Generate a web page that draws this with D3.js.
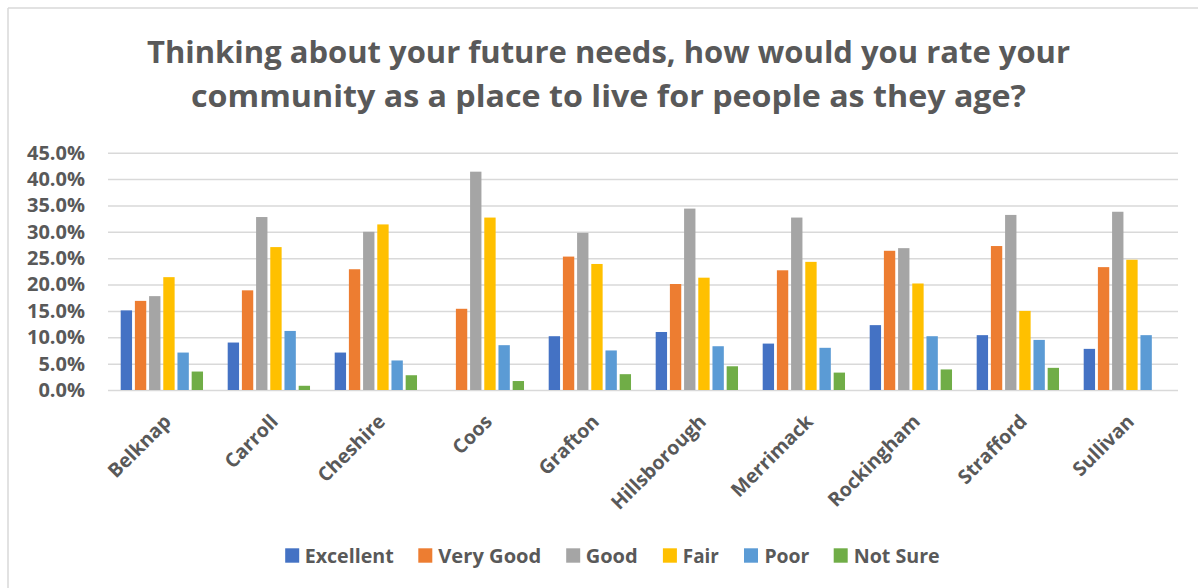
<!DOCTYPE html>
<html>
<head>
<meta charset="utf-8">
<script src="https://cdn.jsdelivr.net/npm/d3@7"></script>
<style>
  html, body { margin: 0; padding: 0; background: #fff; }
  svg { display: block; }
  text { font-family: "Open Sans", Lato, "DejaVu Sans", sans-serif; font-weight: bold; fill: #595959; }
</style>
</head>
<body>
<svg id="chart" width="1198" height="588"></svg>
<script>
const titleLines = [
  "Thinking about your future needs, how would you rate your",
  "community as a place to live for people as they age?"
];
const categories = ["Belknap", "Carroll", "Cheshire", "Coos", "Grafton", "Hillsborough", "Merrimack", "Rockingham", "Strafford", "Sullivan"];
const seriesNames = ["Excellent", "Very Good", "Good", "Fair", "Poor", "Not Sure"];
const seriesColors = ["#4472C4", "#ED7D31", "#A5A5A5", "#FFC000", "#5B9BD5", "#70AD47"];
const excellent = [15.1, 9.0, 7.1, null, 10.2, 11.0, 8.8, 12.3, 10.4, 7.8];
const veryGood  = [16.9, 18.9, 22.9, 15.4, 25.3, 20.1, 22.7, 26.4, 27.3, 23.3];
const good      = [17.8, 32.8, 30.0, 41.4, 29.8, 34.4, 32.7, 26.9, 33.2, 33.8];
const fair      = [21.4, 27.1, 31.4, 32.7, 23.9, 21.3, 24.3, 20.2, 15.0, 24.7];
const poor      = [7.1, 11.2, 5.6, 8.5, 7.5, 8.3, 8.0, 10.2, 9.5, 10.4];
const notSure   = [3.5, 0.8, 2.8, 1.7, 3.0, 4.5, 3.3, 3.9, 4.2, null];
const yTicks = [0, 5, 10, 15, 20, 25, 30, 35, 40, 45];

const seriesValues = [excellent, veryGood, good, fair, poor, notSure];

const svg = d3.select("#chart");
const W = 1198, H = 588;
const FONT = "'Open Sans', Lato, 'DejaVu Sans', sans-serif";

// outer border (left and top visible)
svg.append("line").attr("x1", 8).attr("x2", 8).attr("y1", 8).attr("y2", H)
  .attr("stroke", "#d9d9d9").attr("stroke-width", 1.5);
svg.append("line").attr("x1", 8).attr("x2", W).attr("y1", 8).attr("y2", 8)
  .attr("stroke", "#d9d9d9").attr("stroke-width", 1.5);

// title
const titleWidths = [923, 835];
const titleY = [63, 107];
titleLines.forEach((t, i) => {
  svg.append("text")
    .attr("x", 608.5).attr("y", titleY[i])
    .attr("text-anchor", "middle")
    .attr("font-size", 30)
    .attr("textLength", titleWidths[i])
    .attr("lengthAdjust", "spacingAndGlyphs")
    .text(t);
});

const plotLeft = 108, plotRight = 1178, plotTop = 152.7, plotBottom = 390;

const x0 = d3.scaleBand().domain(categories).range([plotLeft, plotRight]).paddingInner(0).paddingOuter(0);
const bw = x0.bandwidth();
const x1 = d3.scaleBand().domain(seriesNames).range([0.1187 * bw, 0.888 * bw]).paddingInner(0.2).paddingOuter(0);
const y = d3.scaleLinear().domain([0, 45]).range([plotBottom, plotTop]);

// gridlines + y labels
const yAxis = d3.axisLeft(y).tickValues(yTicks).tickSize(-(plotRight - plotLeft)).tickFormat(d => d.toFixed(1) + "%").tickPadding(23);
const gy = svg.append("g").attr("transform", `translate(${plotLeft},0)`).call(yAxis);
gy.select(".domain").remove();
gy.selectAll(".tick line").attr("stroke", "#d9d9d9").attr("stroke-width", 1.5);
gy.selectAll(".tick text").attr("font-size", 20).attr("fill", "#595959")
  .style("font-family", FONT).style("font-weight", "bold");

// bars
const barData = [];
categories.forEach((c, ci) => {
  seriesNames.forEach((s, si) => {
    const v = seriesValues[si][ci];
    if (v !== null && v !== undefined) barData.push({ c, s, si, v });
  });
});
svg.append("g").selectAll("rect").data(barData).join("rect")
  .attr("x", d => x0(d.c) + x1(d.s))
  .attr("width", x1.bandwidth())
  .attr("y", d => y(d.v))
  .attr("height", d => y(0) - y(d.v))
  .attr("fill", d => seriesColors[d.si]);

// x axis labels
const xAxis = d3.axisBottom(x0).tickSize(0).tickPadding(0);
const gx = svg.append("g").attr("transform", `translate(0,${plotBottom})`).call(xAxis);
gx.select(".domain").remove();
gx.selectAll(".tick text")
  .attr("font-size", 19.5).attr("fill", "#595959")
  .style("font-family", FONT).style("font-weight", "bold")
  .attr("text-anchor", "end")
  .attr("y", 0).attr("dy", "0.35em")
  .attr("transform", "translate(6,28) rotate(-45)");

// legend
const legendItems = [
  { name: "Excellent", sx: 285.2, tx: 304.7, tw: 89 },
  { name: "Very Good", sx: 418.3, tx: 438.3, tw: 103 },
  { name: "Good", sx: 566.2, tx: 585.7, tw: 52 },
  { name: "Fair", sx: 662.9, tx: 682.8, tw: 36 },
  { name: "Poor", sx: 744, tx: 764.4, tw: 45 },
  { name: "Not Sure", sx: 833.7, tx: 853.7, tw: 86 }
];
const lg = svg.append("g");
legendItems.forEach((it, i) => {
  lg.append("rect").attr("x", it.sx).attr("y", 548.3).attr("width", 14).attr("height", 14.4)
    .attr("fill", seriesColors[i]);
  lg.append("text").attr("x", it.tx).attr("y", 562.7)
    .attr("font-size", 20)
    .attr("textLength", it.tw).attr("lengthAdjust", "spacingAndGlyphs")
    .text(it.name);
});
</script>
</body>
</html>
